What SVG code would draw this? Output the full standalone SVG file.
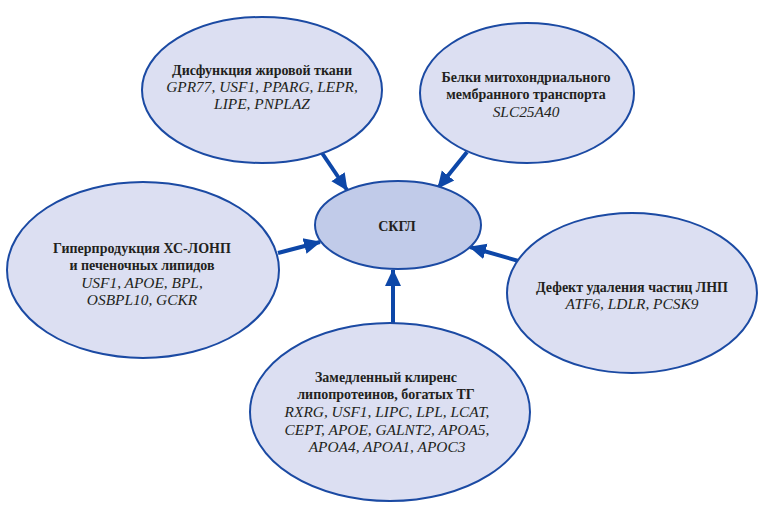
<svg xmlns="http://www.w3.org/2000/svg" width="762" height="510" viewBox="0 0 762 510">
<style>
.outer{fill:#dcdff2;stroke:#1b4aa3;stroke-width:2}
.center{fill:#c1cbe9;stroke:#1b4aa3;stroke-width:2}
text{font-family:"Liberation Serif","Times New Roman",serif;font-size:14px;fill:#231f20;text-anchor:middle}
.b{font-weight:bold}
.i{font-style:italic;font-size:15.4px}
.conn line{stroke:#0d47a8;stroke-width:4;marker-end:url(#ah)}
</style>
<defs>
<marker id="ah" markerUnits="userSpaceOnUse" markerWidth="18" markerHeight="18" viewBox="0 0 18 18" refX="16" refY="9" orient="auto">
<path d="M0,1 L17,9 L0,17 Z" fill="#0d47a8"/>
</marker>
</defs>
<rect width="762" height="510" fill="#ffffff"/>
<g class="conn">
<line x1="322" y1="153" x2="347" y2="190"/>
<line x1="467" y1="152" x2="438" y2="188"/>
<line x1="278" y1="253" x2="320" y2="242"/>
<line x1="522" y1="262" x2="470" y2="247"/>
<line x1="393" y1="323" x2="393" y2="270"/>
</g>
<g id="node-top-left">
<ellipse class="outer" cx="262" cy="90" rx="120" ry="73"/>
<text class="b" x="262" y="75">Дисфункция жировой ткани</text>
<text class="i" x="262" y="92">GPR77, USF1, PPARG, LEPR,</text>
<text class="i" x="262" y="109">LIPE, PNPLAZ</text>
</g>
<g id="node-top-right">
<ellipse class="outer" cx="527" cy="93" rx="107" ry="70"/>
<text class="b" x="526" y="82">Белки митохондриального</text>
<text class="b" x="526" y="99">мембранного транспорта</text>
<text class="i" x="526" y="117">SLC25A40</text>
</g>
<g id="node-left">
<ellipse class="outer" cx="143" cy="270" rx="136" ry="88"/>
<text class="b" x="142" y="253">Гиперпродукция ХС-ЛОНП</text>
<text class="b" x="142" y="270">и печеночных липидов</text>
<text class="i" x="142" y="288">USF1, APOE, BPL,</text>
<text class="i" x="142" y="305">OSBPL10, GCKR</text>
</g>
<g id="node-right">
<ellipse class="outer" cx="632" cy="293" rx="125" ry="80"/>
<text class="b" x="632" y="292">Дефект удаления частиц ЛНП</text>
<text class="i" x="632" y="309">ATF6, LDLR, PCSK9</text>
</g>
<g id="node-bottom">
<ellipse class="outer" cx="390" cy="412" rx="140" ry="89"/>
<text class="b" x="386" y="382">Замедленный клиренс</text>
<text class="b" x="386" y="399">липопротеинов, богатых ТГ</text>
<text class="i" x="387" y="417">RXRG, USF1, LIPC, LPL, LCAT,</text>
<text class="i" x="387" y="435">CEPT, APOE, GALNT2, APOA5,</text>
<text class="i" x="387" y="452">APOA4, APOA1, APOC3</text>
</g>
<g id="node-center">
<ellipse class="center" cx="398" cy="225" rx="83" ry="44"/>
<text class="b" x="397" y="231">СКГЛ</text>
</g>
</svg>
